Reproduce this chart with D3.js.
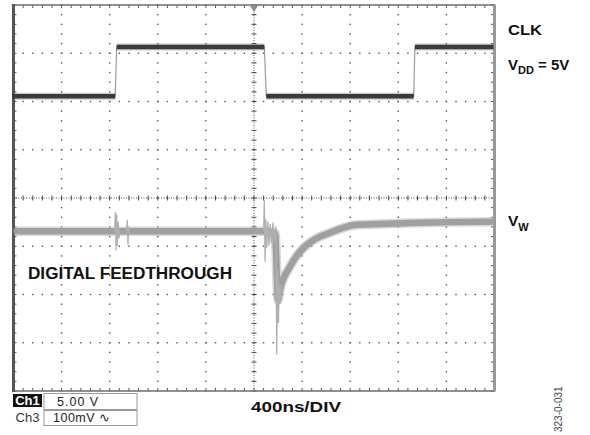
<!DOCTYPE html>
<html>
<head>
<meta charset="utf-8">
<script src="https://cdn.jsdelivr.net/npm/d3@7"></script>
<style>
  body { margin: 0; background: #fff; }
  text { font-family: "Liberation Sans", Arial, sans-serif; }
</style>
</head>
<body>
<svg id="chart" width="590" height="435"></svg>
<script>
// ---- data (time in ns, 400ns/DIV) ----
// CH1: CLK, volts
const clkTime  = [0, 846, 858, 2086, 2102, 3328, 3338, 4000];
const clkVolts = [0, 0, 5.1, 5.1, 0, 0, 5.1, 5.1];

// CH3: wiper output, mV (main band)
const vwTime = [0, 1000, 2085, 2175, 2200, 2216, 2300, 2383, 2466, 2549, 2632, 2715, 2840, 3046, 3296, 3629, 4000];
const vwMv   = [0, 0, 0, -4, -142, -121, -73, -42, -23, -11, -3, 5, 13, 15, 17, 19, 20];

// CH3: feedthrough glitches (thin overlay)
const glitchTime = [840, 848, 853, 858, 863, 870, 878, 885, 940, 946, 952, 958, 965,
                    2080, 2086, 2092, 2098, 2106, 2115, 2125, 2135, 2145, 2158, 2170, 2182, 2189, 2196, 2203, 2210, 2218, 2228,
                    3336, 3343, 3348, 3354, 3360, 3370, 3380];
const glitchMv   = [0, 40, -40, 35, -30, 20, -15, 0, 0, 24, -28, 10, 0,
                    0, 65, -63, 25, -35, 20, -30, 15, -25, 18, -20, 10, -256, -80, -190, -110, -150, -110,
                    17, 55, -28, 40, 5, 25, 17];
// which glitch points start a new burst
const glitchBreaks = [0, 8, 13, 31];

const ch1Ground = 2.11;   // div above centre
const ch3Ground = -0.69;
const voltsPerDiv = 5;
const mvPerDiv = 100;

const svg = d3.select("#chart");
svg.append("rect").attr("width", 590).attr("height", 435).attr("fill", "#fff");

const x = d3.scaleLinear().domain([0, 4000]).range([13.5, 494.5]);
const div = d3.scaleLinear().domain([-4, 4]).range([391, 5]);
const yClk = v => div(ch1Ground + v / voltsPerDiv);
const yVw = mv => div(ch3Ground + mv / mvPerDiv);

const [X0, X1] = x.range();
const [Y1, Y0] = div.range();

// ---- graticule ----
const grid = svg.append("g");
const minorDiv = d3.range(-4, 4.001, 0.2);
const minorT = d3.range(0, 4000.1, 80);

// dotted major lines
d3.range(1, 10).filter(k => k !== 5).forEach(k => {
  grid.selectAll(null).data(minorDiv).enter().append("rect")
    .attr("x", x(k * 400) - 0.7).attr("y", d => div(d) - 0.7)
    .attr("width", 1.4).attr("height", 1.4).attr("fill", "#555");
});
d3.range(-3, 4).filter(j => j !== 0).forEach(j => {
  grid.selectAll(null).data(minorT).enter().append("rect")
    .attr("x", d => x(d) - 0.7).attr("y", div(j) - 0.7)
    .attr("width", 1.4).attr("height", 1.4).attr("fill", "#555");
});

// centre cross with minor ticks
grid.append("line").attr("x1", x(2000)).attr("x2", x(2000)).attr("y1", Y0).attr("y2", Y1)
  .attr("stroke", "#555").attr("stroke-width", 1).attr("stroke-dasharray", "1,1.5");
grid.append("line").attr("x1", X0).attr("x2", X1).attr("y1", div(0)).attr("y2", div(0))
  .attr("stroke", "#555").attr("stroke-width", 1).attr("stroke-dasharray", "1,1.5");
grid.selectAll(null).data(minorDiv).enter().append("line")
  .attr("x1", x(2000) - 2.5).attr("x2", x(2000) + 2.5)
  .attr("y1", d => div(d)).attr("y2", d => div(d))
  .attr("stroke", "#444").attr("stroke-width", 1);
grid.selectAll(null).data(minorT).enter().append("line")
  .attr("x1", d => x(d)).attr("x2", d => x(d))
  .attr("y1", div(0) - 2.5).attr("y2", div(0) + 2.5)
  .attr("stroke", "#444").attr("stroke-width", 1);

// border ticks
grid.selectAll(null).data(minorT).enter().append("line")
  .attr("x1", d => x(d)).attr("x2", d => x(d)).attr("y1", Y0).attr("y2", Y0 + 3)
  .attr("stroke", "#555");
grid.selectAll(null).data(minorT).enter().append("line")
  .attr("x1", d => x(d)).attr("x2", d => x(d)).attr("y1", Y1).attr("y2", Y1 - 3)
  .attr("stroke", "#555");
grid.selectAll(null).data(minorDiv).enter().append("line")
  .attr("x1", X0).attr("x2", X0 + 3).attr("y1", d => div(d)).attr("y2", d => div(d))
  .attr("stroke", "#555");
grid.selectAll(null).data(minorDiv).enter().append("line")
  .attr("x1", X1).attr("x2", X1 - 3.5).attr("y1", d => div(d)).attr("y2", d => div(d))
  .attr("stroke", "#555");

// frame
grid.append("rect").attr("x", X0).attr("y", Y0).attr("width", X1 - X0).attr("height", Y1 - Y0)
  .attr("fill", "none").attr("stroke", "#777").attr("stroke-width", 1.6);
grid.append("line").attr("x1", X0).attr("x2", X0).attr("y1", Y0 - 1).attr("y2", Y1 + 1)
  .attr("stroke", "#555").attr("stroke-width", 3);
grid.append("line").attr("x1", X1).attr("x2", X1).attr("y1", Y0).attr("y2", Y1)
  .attr("stroke", "#999").attr("stroke-width", 3);

// trigger marker
svg.append("path")
  .attr("d", `M${x(2000) - 4.5},${Y0} L${x(2000) + 4.5},${Y0} L${x(2000)},${Y0 + 7} Z`)
  .attr("fill", "#8a8a8a");

// ground markers
[[ch1Ground, "#333"], [ch3Ground, "#777"]].forEach(([g, c]) => {
  svg.append("path")
    .attr("d", `M${X0 - 1},${div(g) - 3} L${X0 + 3},${div(g)} L${X0 - 1},${div(g) + 3} Z`)
    .attr("fill", c);
});

// ---- traces ----
svg.append("clipPath").attr("id", "screen").append("rect")
  .attr("x", X0 + 1).attr("y", Y0 + 1).attr("width", X1 - X0 - 2).attr("height", Y1 - Y0 - 2);
const traces = svg.append("g").attr("clip-path", "url(#screen)");

// CLK: thin light edges, thick dark flat levels
const clkPts = clkTime.map((t, i) => [t, clkVolts[i]]);
const clkLine = d3.line().x(d => x(d[0])).y(d => yClk(d[1]));
traces.append("path").attr("d", clkLine(clkPts))
  .attr("fill", "none").attr("stroke", "#9a9a9a").attr("stroke-width", 1.2);
for (let i = 0; i < clkPts.length - 1; i++) {
  if (clkPts[i][1] !== clkPts[i + 1][1]) continue;
  const seg = [clkPts[i], clkPts[i + 1]];
  traces.append("path").attr("d", clkLine(seg))
    .attr("fill", "none").attr("stroke", "#555").attr("stroke-width", 7).attr("opacity", 0.3);
  traces.append("path").attr("d", clkLine(seg))
    .attr("fill", "none").attr("stroke", "#3a3a3a").attr("stroke-width", 4.5);
}

// VW main band
const vwPts = vwTime.map((t, i) => [t, vwMv[i]]);
const vwLine = d3.line().x(d => x(d[0])).y(d => yVw(d[1])).curve(d3.curveMonotoneX);
traces.append("path").attr("d", vwLine(vwPts))
  .attr("fill", "none").attr("stroke", "#b4b4b4").attr("stroke-width", 9.5).attr("opacity", 0.5);
traces.append("path").attr("d", vwLine(vwPts))
  .attr("fill", "none").attr("stroke", "#a0a0a0").attr("stroke-width", 6.5);

// glitches
const glitchLine = d3.line().x(d => x(d[0])).y(d => yVw(d[1]));
glitchBreaks.slice(0, -1).forEach((s, k) => {
  const pts = d3.range(s, glitchBreaks[k + 1]).map(i => [glitchTime[i], glitchMv[i]]);
  traces.append("path").attr("d", glitchLine(pts))
    .attr("fill", "none").attr("stroke", "#b0b0b0").attr("stroke-width", 1.3);
});

// ---- labels ----
const bold = (txt, px, py, size, len) => {
  const t = svg.append("text").attr("x", px).attr("y", py)
    .attr("font-size", size).attr("font-weight", "bold").attr("fill", "#111").text(txt);
  if (len) t.attr("textLength", len).attr("lengthAdjust", "spacingAndGlyphs");
  return t;
};
bold("CLK", 508, 35, 15.5, 34);

const vdd = svg.append("text").attr("x", 508).attr("y", 70)
  .attr("font-size", 15).attr("font-weight", "bold").attr("fill", "#111");
vdd.append("tspan").text("V");
vdd.append("tspan").attr("font-size", 11).attr("dy", 4).text("DD");
vdd.append("tspan").attr("dy", -4).text(" = 5V");

const vw = svg.append("text").attr("x", 508).attr("y", 226)
  .attr("font-size", 15.5).attr("font-weight", "bold").attr("fill", "#111");
vw.append("tspan").text("V");
vw.append("tspan").attr("font-size", 11).attr("dy", 5).text("W");

bold("DIGITAL FEEDTHROUGH", 28, 279, 16, 204);
bold("400ns/DIV", 251, 412, 14.5, 90);

// channel readouts
svg.append("rect").attr("x", 13).attr("y", 394).attr("width", 29).attr("height", 13).attr("fill", "#111");
svg.append("text").attr("x", 27.5).attr("y", 405).attr("text-anchor", "middle")
  .attr("font-size", 13).attr("font-weight", "bold").attr("fill", "#fff").text("Ch1");
svg.append("text").attr("x", 27.5).attr("y", 422).attr("text-anchor", "middle")
  .attr("font-size", 13).attr("fill", "#333").text("Ch3");
svg.append("rect").attr("x", 44).attr("y", 393.5).attr("width", 93).attr("height", 16)
  .attr("fill", "none").attr("stroke", "#999").attr("stroke-width", 1);
svg.append("rect").attr("x", 44).attr("y", 410.5).attr("width", 93).attr("height", 15)
  .attr("fill", "none").attr("stroke", "#999").attr("stroke-width", 1);
svg.append("text").attr("x", 57).attr("y", 406).attr("font-family", "DejaVu Sans")
  .attr("font-size", 12.5).attr("letter-spacing", 1).attr("fill", "#222").text("5.00 V");
svg.append("text").attr("x", 53).attr("y", 422).attr("font-family", "DejaVu Sans")
  .attr("font-size", 12.5).attr("letter-spacing", 0.5).attr("fill", "#222").text("100mV \u223F");

// figure number
svg.append("text").attr("transform", "translate(562,432) rotate(-90)")
  .attr("font-size", 10).attr("fill", "#444").text("323-0-031");
</script>
</body>
</html>
